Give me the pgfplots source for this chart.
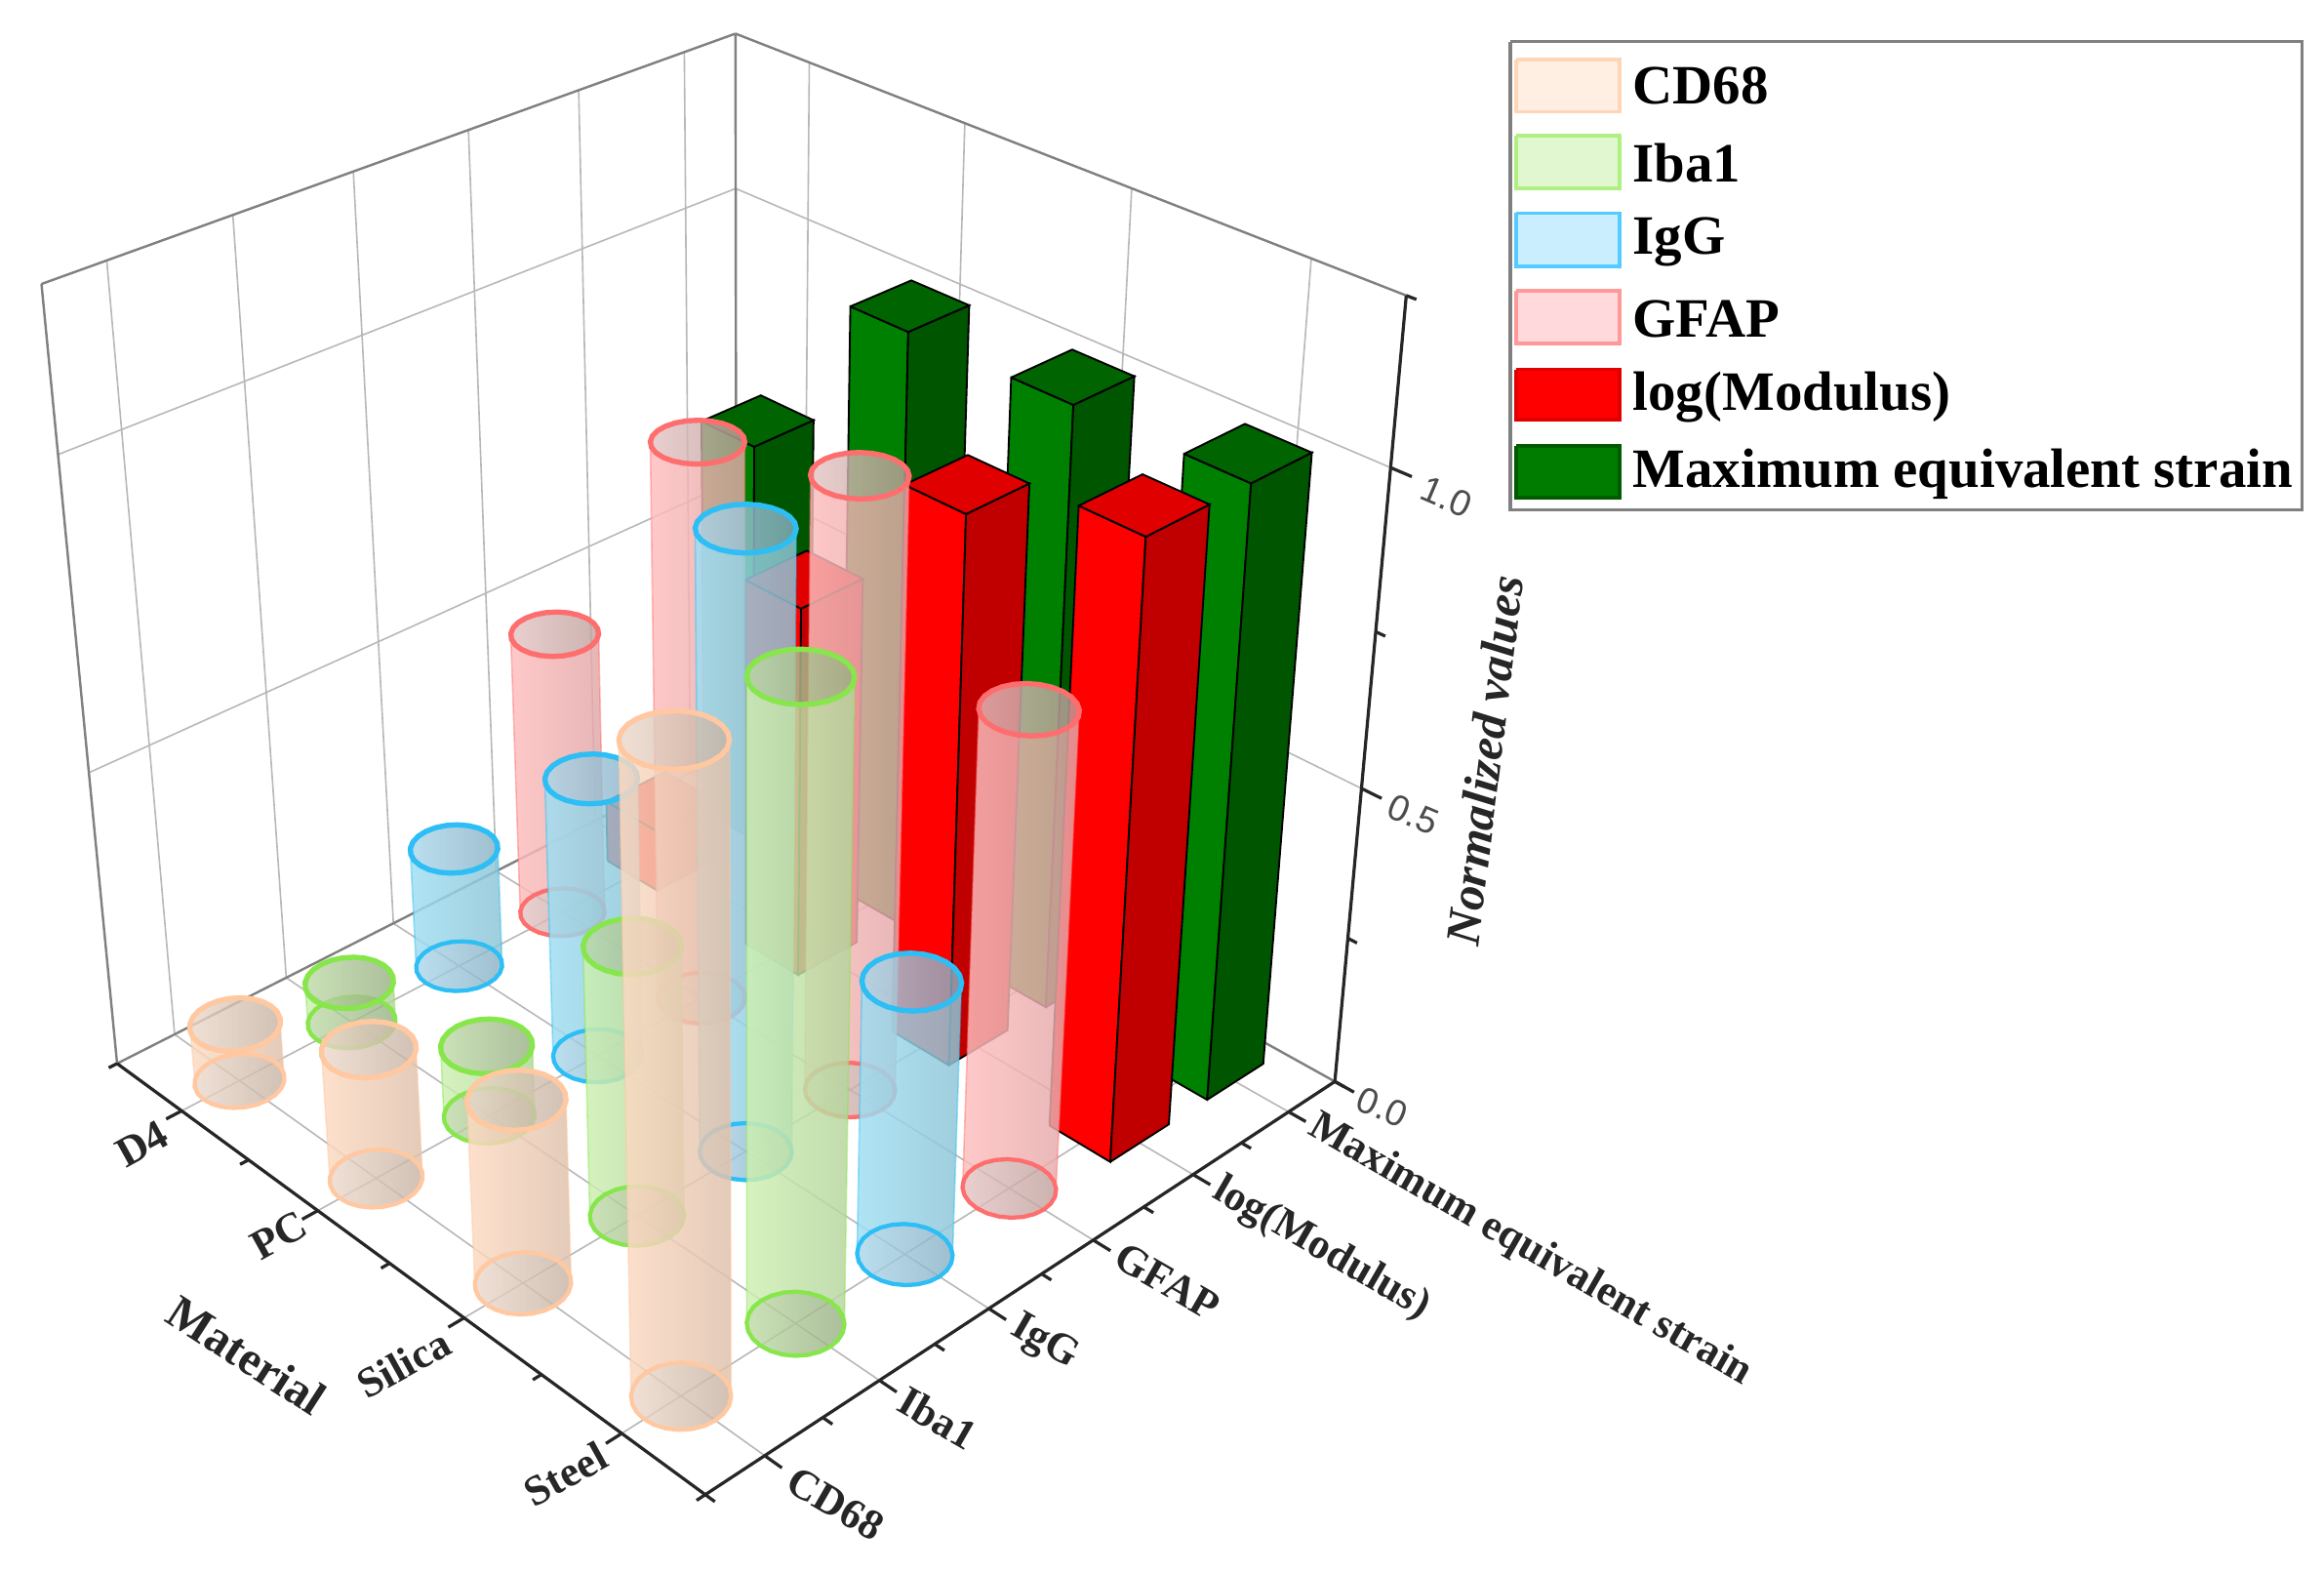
\documentclass[border=0pt]{standalone}
\usepackage{fontspec}
\setmainfont{Liberation Serif}
\newfontfamily\numfont{Liberation Sans}
\usepackage{pgfplots}
\usepackage{pgfplotstable}
\pgfplotsset{compat=1.18}

\definecolor{cdline}{RGB}{255,200,160}
\definecolor{ibaline}{RGB}{135,230,75}
\definecolor{iggline}{RGB}{45,190,245}
\definecolor{gfapline}{RGB}{255,110,110}
\definecolor{cdbody}{RGB}{253,219,195}
\definecolor{ibabody}{RGB}{205,240,178}
\definecolor{iggbody}{RGB}{160,223,243}
\definecolor{gfapbody}{RGB}{255,190,190}
\definecolor{cdcapL}{RGB}{236,216,202}
\definecolor{cdcapR}{RGB}{198,178,162}
\definecolor{ibacapL}{RGB}{190,218,165}
\definecolor{ibacapR}{RGB}{150,175,130}
\definecolor{iggcapL}{RGB}{170,215,235}
\definecolor{iggcapR}{RGB}{135,175,195}
\definecolor{gfapcapL}{RGB}{228,195,195}
\definecolor{gfapcapR}{RGB}{190,160,155}
\definecolor{modL}{RGB}{255,0,0}
\definecolor{modR}{RGB}{192,0,0}
\definecolor{modT}{RGB}{224,0,0}
\definecolor{strainL}{RGB}{0,128,0}
\definecolor{strainR}{RGB}{0,85,0}
\definecolor{strainT}{RGB}{0,100,0}
\definecolor{legcdF}{RGB}{255,239,227}
\definecolor{legcdD}{RGB}{255,213,184}
\definecolor{legibaF}{RGB}{224,247,207}
\definecolor{legibaD}{RGB}{176,240,128}
\definecolor{legiggF}{RGB}{203,238,255}
\definecolor{legiggD}{RGB}{85,204,255}
\definecolor{leggfapF}{RGB}{255,217,219}
\definecolor{leggfapD}{RGB}{255,153,153}
\definecolor{legmodF}{RGB}{255,0,0}
\definecolor{legmodD}{RGB}{225,0,0}
\definecolor{legstrF}{RGB}{0,125,0}
\definecolor{legstrD}{RGB}{0,90,0}

% footprint of a cylinder
\pgfplotstableread{
a b
1 0
0.9659 0.2588
0.866 0.5
0.7071 0.7071
0.5 0.866
0.2588 0.9659
0 1
-0.2588 0.9659
-0.5 0.866
-0.7071 0.7071
-0.866 0.5
-0.9659 0.2588
-1 0
-0.9659 -0.2588
-0.866 -0.5
-0.7071 -0.7071
-0.5 -0.866
-0.2588 -0.9659
0 -1
0.2588 -0.9659
0.5 -0.866
0.7071 -0.7071
0.866 -0.5
0.9659 -0.2588
1 0
}\unitring
% side of a cylinder: front arc of the top, back arc of the bottom
\pgfplotstableread{
a b f
-0.682 -0.731 1
-0.225 -0.974 1
0.292 -0.956 1
0.731 -0.682 1
0.974 -0.225 1
0.956 0.292 1
0.682 0.731 1
0.682 0.731 0
0.225 0.974 0
-0.292 0.956 0
-0.731 0.682 0
-0.974 0.225 0
-0.956 -0.292 0
-0.682 -0.731 0
-0.682 -0.731 1
}\tabSil
\pgfplotstableread{
a b f
-1 -1 0
1 -1 0
1 -1 1
-1 -1 1
-1 -1 0
}\tabLeft
\pgfplotstableread{
a b f
1 -1 0
1 1 0
1 1 1
1 -1 1
1 -1 0
}\tabRight
\pgfplotstableread{
a b f
-1 -1 1
1 -1 1
1 1 1
-1 1 1
-1 -1 1
}\tabTop

% #1 options, #2 table, #3 material, #4 marker, #5 value, #6 half width s, #7 half width t
\newcommand\piece[7]{%
  \addplot[#1] table[
    x expr={px((#3+0.5)/4+#6*\thisrow{a},(#4+0.5)/6+#7*\thisrow{b},\thisrow{f}*#5/1.25)},
    y expr={py((#3+0.5)/4+#6*\thisrow{a},(#4+0.5)/6+#7*\thisrow{b},\thisrow{f}*#5/1.25)}] {#2};
}
\newcommand\ring[6]{%
  \addplot[#1] table[
    x expr={px((#3+0.5)/4+#6*\thisrow{a},(#4+0.5)/6+#6*\thisrow{b},#5/1.25)},
    y expr={py((#3+0.5)/4+#6*\thisrow{a},(#4+0.5)/6+#6*\thisrow{b},#5/1.25)}] {#2};
}
% #1 material, #2 marker, #3 value, #4 colour prefix
\newcommand\cyl[4]{%
  \piece{draw=#4line,draw opacity=0.45,line width=0.3pt,fill opacity=0.84,
    left color=#4body,middle color=#4body!85!white,right color=#4body!88!black}{\tabSil}{#1}{#2}{#3}{0.052}{0.052}
  \ring{draw=#4line,line width=0.8pt,fill opacity=0.8,left color=#4capL,right color=#4capR}{\unitring}{#1}{#2}{0}{0.052}
  \ring{draw=#4line,line width=1pt,fill opacity=0.8,left color=#4capL,right color=#4capR}{\unitring}{#1}{#2}{#3}{0.052}
}
\newcommand\cuboid[4]{%
  \piece{fill=#4L,draw=black,line width=0.35pt}{\tabLeft}{#1}{#2}{#3}{0.046}{0.05}
  \piece{fill=#4R,draw=black,line width=0.35pt}{\tabRight}{#1}{#2}{#3}{0.046}{0.05}
  \piece{fill=#4T,draw=black,line width=0.35pt}{\tabTop}{#1}{#2}{#3}{0.046}{0.05}
}
\newcommand\seg[3][]{%
  \addplot[#1] table[row sep=\\,
    x expr={px(\thisrow{s},\thisrow{t},\thisrow{w})},
    y expr={py(\thisrow{s},\thisrow{t},\thisrow{w})}] {s t w\\ #2\\ #3\\};
}
\newcommand\swatch[4]{%
  \addplot[fill=#3,draw=#4,line width=0.7pt] coordinates {(1022,#1) (1091.6,#1) (1091.6,#2) (1022,#2) (1022,#1)};
}

\tikzset{
  gridline/.style={draw=black!28,line width=0.3pt},
  edge/.style={draw=black!50,line width=0.45pt},
  axline/.style={draw=black!85,line width=0.6pt},
  cat/.style={font=\fontsize{8.1}{9}\selectfont\bfseries,text=black!85,inner sep=0pt},
  num/.style={font=\fontsize{7}{8}\selectfont\numfont,text=black!70,inner sep=0pt,rotate=-23},
  legtext/.style={font=\fontsize{10.6}{12}\selectfont\bfseries,anchor=west,inner sep=0pt},
}

\begin{document}
\begin{tikzpicture}
\path[use as bounding box] (0,0) rectangle (15.6cm,10.55cm);
\begin{axis}[
  at={(0,0)},anchor=south west,
  scale only axis,width=15.6cm,height=10.55cm,
  xmin=-1,xmax=1567,ymin=-1.5,ymax=1059,y dir=reverse,
  hide axis,clip=false,
  declare function={
    px(\sa,\ta,\wa)=(78+331.9*\sa+480.9*\ta-53.9*\wa)/(1-0.1368*\sa+0.127*\ta-0.1072*\wa);
    py(\sa,\ta,\wa)=(716+153.1*\sa-148.1*\ta-546.3*\wa)/(1-0.1368*\sa+0.127*\ta-0.1072*\wa);
  },
]
% walls and floor
\pgfplotsinvokeforeach{0.0833,0.25,0.4167,0.5833,0.75,0.9167}{
  \seg[gridline]{0 #1 0}{0 #1 1}
  \seg[gridline]{0 #1 0}{1 #1 0}
}
\pgfplotsinvokeforeach{0.125,0.375,0.625,0.875}{
  \seg[gridline]{#1 1 0}{#1 1 1}
  \seg[gridline]{#1 0 0}{#1 1 0}
}
\pgfplotsinvokeforeach{0.4,0.8}{
  \seg[gridline]{0 0 #1}{0 1 #1}
  \seg[gridline]{0 1 #1}{1 1 #1}
}
\seg[edge]{0 0 0}{0 0 1}
\seg[edge]{0 0 1}{0 1 1}
\seg[edge]{0 1 1}{1 1 1}
\seg[edge]{0 1 0}{0 1 1}
\seg[edge]{0 0 0}{0 1 0}
\seg[edge]{0 1 0}{1 1 0}

% bars, back to front
\cuboid{0}{5}{0.70}{strain}
\cuboid{0}{4}{0.11}{mod}
\cuboid{1}{5}{1.00}{strain}
\cyl{0}{3}{0.495}{gfap}
\cuboid{1}{4}{0.634}{mod}
\cyl{0}{2}{0.211}{igg}
\cuboid{2}{5}{1.00}{strain}
\cyl{1}{3}{0.932}{gfap}
\cyl{0}{1}{0.071}{iba}
\cuboid{2}{4}{0.91}{mod}
\cyl{1}{2}{0.477}{igg}
\cuboid{3}{5}{1.00}{strain}
\cyl{0}{0}{0.10}{cd}
\cyl{2}{3}{1.00}{gfap}
\cyl{1}{1}{0.122}{iba}
\cuboid{3}{4}{1.00}{mod}
\cyl{2}{2}{1.00}{igg}
\cyl{1}{0}{0.2215}{cd}
\cyl{3}{3}{0.778}{gfap}
\cyl{2}{1}{0.45}{iba}
\cyl{3}{2}{0.451}{igg}
\cyl{2}{0}{0.306}{cd}
\cyl{3}{1}{1.00}{iba}
\cyl{3}{0}{1.00}{cd}

% axes
\seg[axline]{0 0 0}{1 0 0}
\seg[axline]{1 0 0}{1 1 0}
\seg[axline]{1 1 0}{1 1 1}
\pgfplotsinvokeforeach{0.125,0.375,0.625,0.875}{\seg[axline]{#1 0 0}{#1 -0.022 0}}
\pgfplotsinvokeforeach{0,0.25,0.5,0.75,1}{\seg[axline]{#1 0 0}{#1 -0.012 0}}
\pgfplotsinvokeforeach{0.0833,0.25,0.4167,0.5833,0.75,0.9167}{\seg[axline]{1 #1 0}{1.025 #1 0}}
\pgfplotsinvokeforeach{0,0.1667,0.3333,0.5,0.6667,0.8333,1}{\seg[axline]{1 #1 0}{1.014 #1 0}}
\pgfplotsinvokeforeach{0,0.4,0.8}{\seg[axline]{1 1 #1}{1.028 1 #1}}
\pgfplotsinvokeforeach{0.2,0.6,1}{\seg[axline]{1 1 #1}{1.013 1 #1}}

% axis text
\node[cat,rotate=29] at (axis cs:95,770) {D4};
\node[cat,rotate=29] at (axis cs:187,832) {PC};
\node[cat,rotate=29] at (axis cs:271.4,918.3) {Silica};
\node[cat,rotate=29] at (axis cs:380.4,993) {Steel};
\node[cat,rotate=-33,font=\fontsize{9.1}{10}\selectfont\bfseries] at (axis cs:165.4,912.7) {Material};
\node[cat,rotate=-30] at (axis cs:562.9,1013) {CD68};
\node[cat,rotate=-30] at (axis cs:631.8,955) {Iba1};
\node[cat,rotate=-30] at (axis cs:703.6,904.6) {IgG};
\node[cat,rotate=-30] at (axis cs:786.6,863) {GFAP};
\node[cat,rotate=-30] at (axis cs:890.5,841.3) {log(Modulus)};
\node[cat,rotate=-30] at (axis cs:1031.3,841.9) {Maximum equivalent strain};
\node[num] at (axis cs:931.8,745.5) {0.0};
\node[num] at (axis cs:952.7,547.8) {0.5};
\node[num] at (axis cs:975,333.7) {1.0};
\node[cat,rotate=83,font=\fontsize{9.3}{10}\selectfont\bfseries\itshape] at (axis cs:1000.7,511.6) {Normalized values};

% legend
\addplot[draw=black!50,line width=0.6pt,fill=white] coordinates {(1018,26.5) (1552,26.5) (1552,342.5) (1018,342.5) (1018,26.5)};
\swatch{38.5}{73.8}{legcdF}{legcdD}
\swatch{90}{125.3}{legibaF}{legibaD}
\swatch{142.3}{178.3}{legiggF}{legiggD}
\swatch{194.7}{230.4}{leggfapF}{leggfapD}
\swatch{247.7}{281.7}{legmodF}{legmodD}
\swatch{299.2}{334.4}{legstrF}{legstrD}
\node[legtext] at (axis cs:1100,56) {CD68};
\node[legtext] at (axis cs:1100,108.5) {Iba1};
\node[legtext] at (axis cs:1100,161.5) {IgG};
\node[legtext] at (axis cs:1100,213.5) {GFAP};
\node[legtext] at (axis cs:1100,266.5) {log(Modulus)};
\node[legtext] at (axis cs:1100,318.5) {Maximum equivalent strain};
\end{axis}
\end{tikzpicture}
\end{document}
